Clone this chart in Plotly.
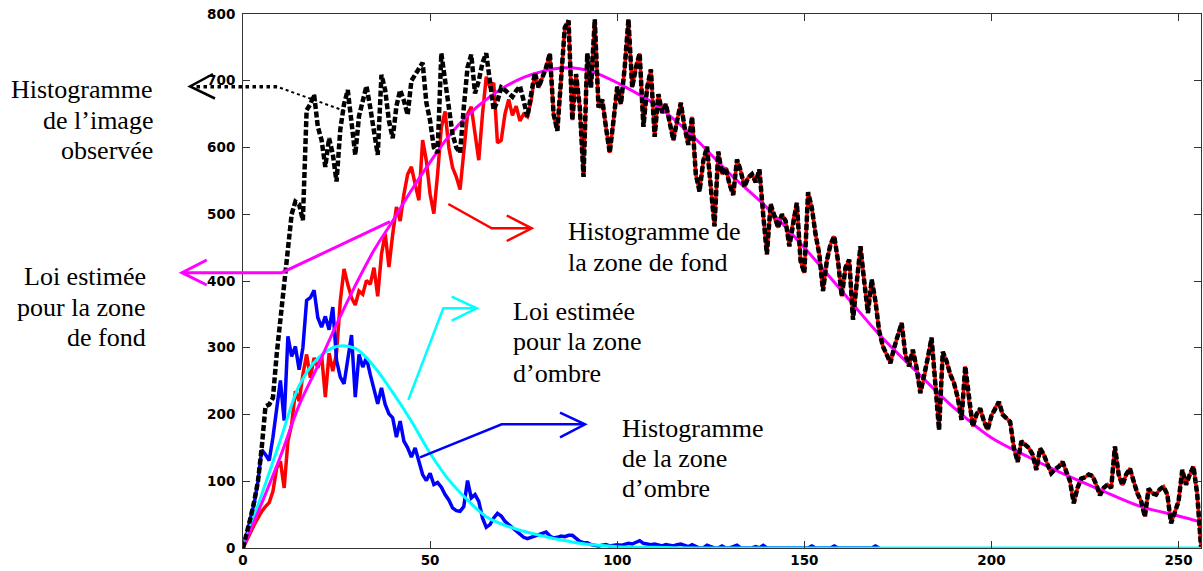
import plotly.graph_objects as go

# ---------------- data ----------------
red_background_hist = [
    0, 12, 25, 35, 45, 55, 62, 68, 85, 120,
    130, 90, 160, 185, 235, 220, 260, 290, 255, 285,
    270, 289, 226, 292, 265, 292, 370, 418, 395, 375,
    364, 385, 380, 401, 395, 420, 377, 440, 471, 421,
    470, 511, 490, 530, 560, 571, 545, 521, 611, 580,
    530, 501, 560, 630, 654, 600, 570, 556, 537, 600,
    650, 661, 620, 581, 650, 706, 690, 697, 607, 611,
    650, 672, 648, 662, 640, 650, 646, 670, 712, 690,
    705, 720, 741, 650, 625, 700, 780, 790, 641, 710,
    660, 556, 741, 690, 792, 660, 672, 630, 592, 640,
    691, 665, 720, 792, 690, 720, 741, 631, 690, 717,
    616, 680, 652, 665, 640, 611, 640, 667, 630, 604,
    646, 560, 534, 580, 601, 540, 482, 594, 560, 570,
    545, 529, 582, 565, 541, 555, 560, 548, 567, 500,
    440, 515, 495, 480, 500, 490, 452, 490, 517, 430,
    412, 533, 510, 470, 440, 385, 430, 455, 467, 430,
    377, 420, 432, 342, 400, 452, 400, 352, 402, 370,
    325, 302, 290, 277, 300, 320, 337, 290, 272, 297,
    270, 232, 255, 285, 315, 250, 177, 294, 280, 260,
    247, 225, 192, 272, 220, 182, 200, 209, 190, 177,
    198, 210, 219, 200, 195, 189, 150, 129, 160, 155,
    150, 140, 117, 149, 140, 125, 112, 118, 122, 129,
    115, 100, 67, 90, 104, 106, 110, 108, 95, 79,
    90, 95, 90, 152, 110, 94, 110, 119, 100, 82,
    70, 47, 89, 82, 80, 88, 92, 80, 37, 55,
    70, 117, 95, 110, 122, 80, 2,
]

blue_shadow_hist = [
    0, 20, 45, 67, 100, 147, 140, 131, 166, 207,
    251, 191, 317, 287, 302, 267, 300, 371, 375, 386,
    345, 331, 347, 327, 361, 281, 256, 246, 280, 319,
    226, 290, 271, 285, 260, 240, 216, 240, 215, 201,
    195, 166, 190, 160, 150, 136, 150, 130, 110, 101,
    112, 95, 98, 91, 80, 72, 60, 56, 55, 62,
    101, 75, 80, 70, 45, 31, 35, 45, 52, 48,
    40, 35, 30, 25, 20, 16, 14, 16, 18, 20,
    22, 24, 18, 15, 16, 18, 17, 19, 19, 14,
    10, 8, 8, 5, 4, 3, 4, 5, 3, 4,
    5, 4, 6, 7, 6, 9, 11, 7, 6, 5,
    6, 4, 3, 5, 4, 3, 5, 6, 4, 2,
    5, 3, 0, 0, 4, 2, 0, 0, 3, 0,
    0, 2, 4, 0, 0, 0, 0, 2, 0, 4,
    0, 0, 0, 0, 0, 0, 0, 0, 0, 0,
    0, 0, 3, 0, 0, 0, 0, 0, 3, 0,
    0, 0, 0, 0, 0, 0, 0, 0, 0, 3,
    0,
]

# observed histogram where it differs from the background one (x = 0..80)
black_observed_low = [
    0, 20, 45, 70, 100, 150, 212, 215, 225, 290,
    340, 390, 440, 500, 519, 515, 491, 656, 665, 679,
    631, 611, 571, 614, 590, 549, 627, 665, 686, 640,
    589, 647, 670, 692, 660, 620, 589, 709, 686, 640,
    614, 662, 686, 670, 649, 700, 709, 720, 727, 667,
    640, 600, 592, 741, 700, 650, 620, 600, 592, 660,
    720, 739, 681, 700, 727, 741, 700, 656, 670, 690,
    686, 680, 676, 685, 692, 670, 646, 680, 712, 690,
    705,
]

magenta_x = [0, 5, 10, 15, 20, 25, 30, 35, 40, 45, 50, 55, 60, 65, 70, 75, 80, 85,
             90, 95, 100, 110, 120, 130, 140, 150, 160, 170, 180, 190, 200, 210,
             220, 230, 240, 250, 256]
magenta_y = [0, 67, 137, 214, 273, 335, 393, 446, 490, 536, 578, 617, 648, 672, 691,
             705, 714, 719, 718, 710, 697, 665, 618, 561, 510, 450, 385, 320, 264,
             210, 165, 136, 109, 85, 62, 48, 39]

cyan_x = [0, 5, 10, 15, 20, 25, 30, 35, 40, 45, 50, 55, 60, 65, 70, 75, 80, 85, 90,
          95, 100, 110, 120, 140, 256]
cyan_y = [0, 80, 162, 243, 284, 302, 299, 272, 233, 190, 142, 102, 72, 47, 34, 25,
          18, 12, 7, 4, 2, 1, 0, 0, 0]

x_ticks = [0, 50, 100, 150, 200, 250]
y_ticks = [0, 100, 200, 300, 400, 500, 600, 700, 800]

# ---------------- derived series ----------------
red_x = list(range(len(red_background_hist)))
blue_x = list(range(len(blue_shadow_hist)))
black_y = black_observed_low + red_background_hist[len(black_observed_low):]
black_x = list(range(len(black_y)))

# ---------------- figure ----------------
W, H = 1203, 571
L, R, T, B = 243, 1201, 14, 548


def px(xp):
    return (xp - L) / (R - L)


def py(yp):
    return (B - yp) / (B - T)


fig = go.Figure()
fig.add_trace(go.Scatter(x=red_x, y=red_background_hist, mode="lines",
                         line=dict(color="#ff0000", width=3.5), showlegend=False))
fig.add_trace(go.Scatter(x=blue_x, y=blue_shadow_hist, mode="lines",
                         line=dict(color="#0000ff", width=3.5), showlegend=False))
fig.add_trace(go.Scatter(x=cyan_x, y=cyan_y, mode="lines",
                         line=dict(color="#00ffff", width=3, shape="spline"),
                         showlegend=False))
fig.add_trace(go.Scatter(x=magenta_x, y=magenta_y, mode="lines",
                         line=dict(color="#ff00ff", width=3, shape="spline"),
                         showlegend=False))
fig.add_trace(go.Scatter(x=black_x, y=black_y, mode="lines",
                         line=dict(color="#000000", width=4.5, dash="6px,2.5px"),
                         showlegend=False))


def path(points):
    s = "M " + " L ".join(f"{px(a):.5f},{py(b):.5f}" for a, b in points)
    return s


shapes = []


def add_path(points, color, width, dash="solid"):
    shapes.append(dict(type="path", xref="paper", yref="paper", path=path(points),
                       line=dict(color=color, width=width, dash=dash)))


# black dotted pointer
add_path([(345, 111), (277, 86.7)], "#000000", 2, "dot")
add_path([(277, 86.7), (194, 86.7)], "#000000", 3.5, "dot")
add_path([(213, 74), (190, 86.5), (215, 98.5)], "#000000", 2.5)
# magenta pointer
add_path([(390, 221.7), (281.7, 272.7), (183, 272.7)], "#ff00ff", 3)
add_path([(206.7, 260), (182, 272.7), (206.7, 285)], "#ff00ff", 3)
# red pointer
add_path([(448.3, 204), (491.7, 228.3), (531, 228.3)], "#ff0000", 2.5)
add_path([(506.7, 215.5), (531.7, 228.3), (506.7, 241)], "#ff0000", 2.5)
# cyan pointer
add_path([(408.3, 400), (443.3, 308.3), (476, 308.3)], "#00ffff", 2.5)
add_path([(451.7, 296.7), (476.7, 308.3), (451.7, 320.7)], "#00ffff", 2.5)
# blue pointer
add_path([(420, 457.3), (501.7, 424.3), (584, 424.3)], "#0000ff", 2.5)
add_path([(560, 412.7), (585, 424.3), (560, 437.3)], "#0000ff", 2.5)

ann = []


def add_text(text, xp, yc, anchor):
    ann.append(dict(text=text, x=px(xp), y=py(yc), xref="paper", yref="paper",
                    xanchor=anchor, yanchor="middle", showarrow=False,
                    font=dict(family="Liberation Serif", size=26, color="#000000")))


add_text("Histogramme", 155, 89, "right")
add_text("de l’image", 155, 120, "right")
add_text("observée", 155, 151, "right")

add_text("Loi estimée", 148, 276, "right")
add_text("pour la zone", 148, 307, "right")
add_text("de fond", 148, 338, "right")

add_text("Histogramme de", 566, 231, "left")
add_text("la zone de fond", 566, 262, "left")

add_text("Loi estimée", 511, 311, "left")
add_text("pour la zone", 511, 342, "left")
add_text("d’ombre", 511, 373, "left")

add_text("Histogramme", 620, 428, "left")
add_text("de la zone", 620, 458, "left")
add_text("d’ombre", 620, 488, "left")

tickfont = dict(family="DejaVu Sans", size=13.5, color="#000000", weight="bold")
axis_common = dict(showgrid=False, zeroline=False, showline=True, mirror="ticks",
                   linecolor="#333333", linewidth=1, ticks="inside", ticklen=7,
                   tickcolor="#333333", tickwidth=1, tickfont=tickfont)

fig.update_layout(
    width=W, height=H,
    margin=dict(l=L, r=W - R, t=T, b=H - B),
    paper_bgcolor="#ffffff", plot_bgcolor="#ffffff",
    xaxis=dict(range=[0, 256], tickvals=x_ticks, ticktext=[str(v) for v in x_ticks],
               **axis_common),
    yaxis=dict(range=[0, 800], tickvals=y_ticks, ticktext=[str(v) for v in y_ticks],
               ticklabelstandoff=4, **axis_common),
    shapes=shapes,
    annotations=ann,
)

fig.write_html("out.html", config={"displayModeBar": False},
               post_script="document.body.style.margin='0';document.body.style.overflow='hidden';")
